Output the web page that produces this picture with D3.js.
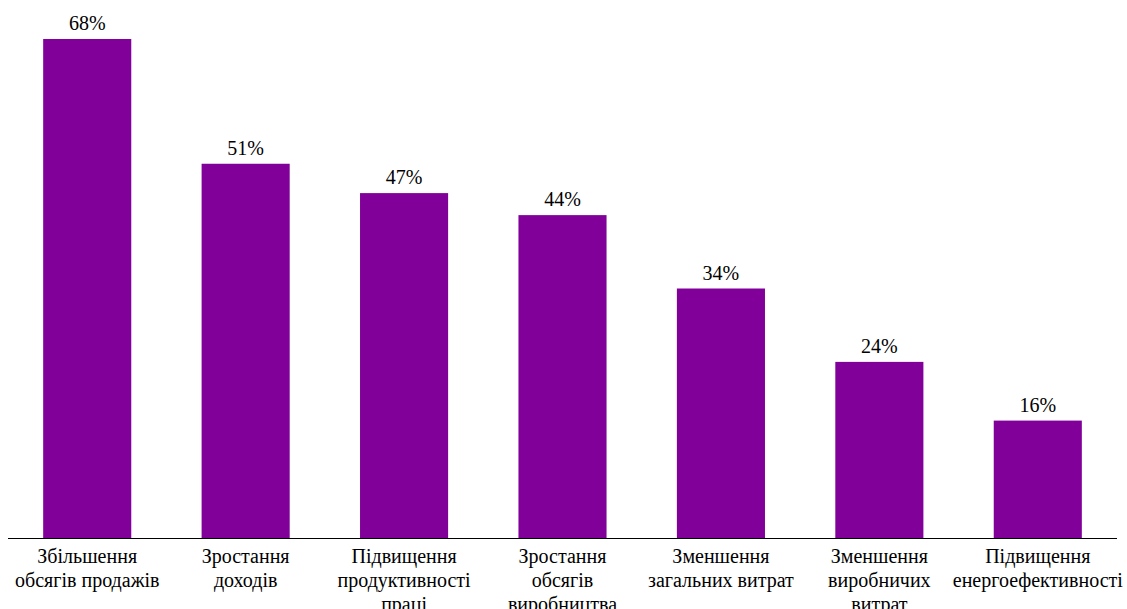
<!DOCTYPE html>
<html>
<head>
<meta charset="utf-8">
<script src="https://cdn.jsdelivr.net/npm/d3@7"></script>
<style>
  html, body { margin: 0; padding: 0; background: #fff; }
</style>
</head>
<body>
<svg id="chart" width="1127" height="609"></svg>
<script>
/* ---------- data ---------- */
const categories = [
  ["Збільшення", "обсягів продажів"],
  ["Зростання", "доходів"],
  ["Підвищення", "продуктивності", "праці"],
  ["Зростання", "обсягів", "виробництва"],
  ["Зменшення", "загальних витрат"],
  ["Зменшення", "виробничих", "витрат"],
  ["Підвищення", "енергоефективності"]
];
const values = [68, 51, 47, 44, 34, 24, 16];

/* ---------- layout ---------- */
const AXIS_Y = 538, TOP_Y = 39;
const LEFT = 8, RIGHT = 1117;
const BAR_COLOR = "#800099";
const FONT = "'Liberation Serif', 'Times New Roman', Tinos, 'DejaVu Serif', serif";

const svg = d3.select("#chart");

const x = d3.scaleBand()
    .domain(d3.range(values.length))
    .range([LEFT, RIGHT])
    .paddingInner(0.444)
    .paddingOuter(0.222);

const y = d3.scaleLinear()
    .domain([0, d3.max(values)])
    .range([AXIS_Y, TOP_Y]);

// bars
svg.append("g").selectAll("rect")
  .data(values)
  .join("rect")
    .attr("x", (d, i) => x(i))
    .attr("y", d => y(d))
    .attr("width", x.bandwidth())
    .attr("height", d => AXIS_Y - y(d))
    .attr("fill", BAR_COLOR);

// value labels
svg.append("g").selectAll("text")
  .data(values)
  .join("text")
    .attr("x", (d, i) => x(i) + x.bandwidth() / 2)
    .attr("y", d => y(d) - 9)
    .attr("text-anchor", "middle")
    .attr("font-family", FONT)
    .attr("font-size", 20)
    .text(d => d + "%");

// axis line
svg.append("line")
    .attr("x1", LEFT).attr("x2", RIGHT)
    .attr("y1", AXIS_Y + 0.5).attr("y2", AXIS_Y + 0.5)
    .attr("stroke", "#000")
    .attr("stroke-width", 1);

// category labels
const cat = svg.append("g").selectAll("text")
  .data(categories)
  .join("text")
    .attr("text-anchor", "middle")
    .attr("font-family", FONT)
    .attr("font-size", 20)
    .attr("transform", (d, i) => `translate(${x(i) + x.bandwidth() / 2},${AXIS_Y + 25})`);

cat.selectAll("tspan")
  .data(d => d)
  .join("tspan")
    .attr("x", 0)
    .attr("y", (d, j) => j * 24)
    .text(d => d);
</script>
</body>
</html>
